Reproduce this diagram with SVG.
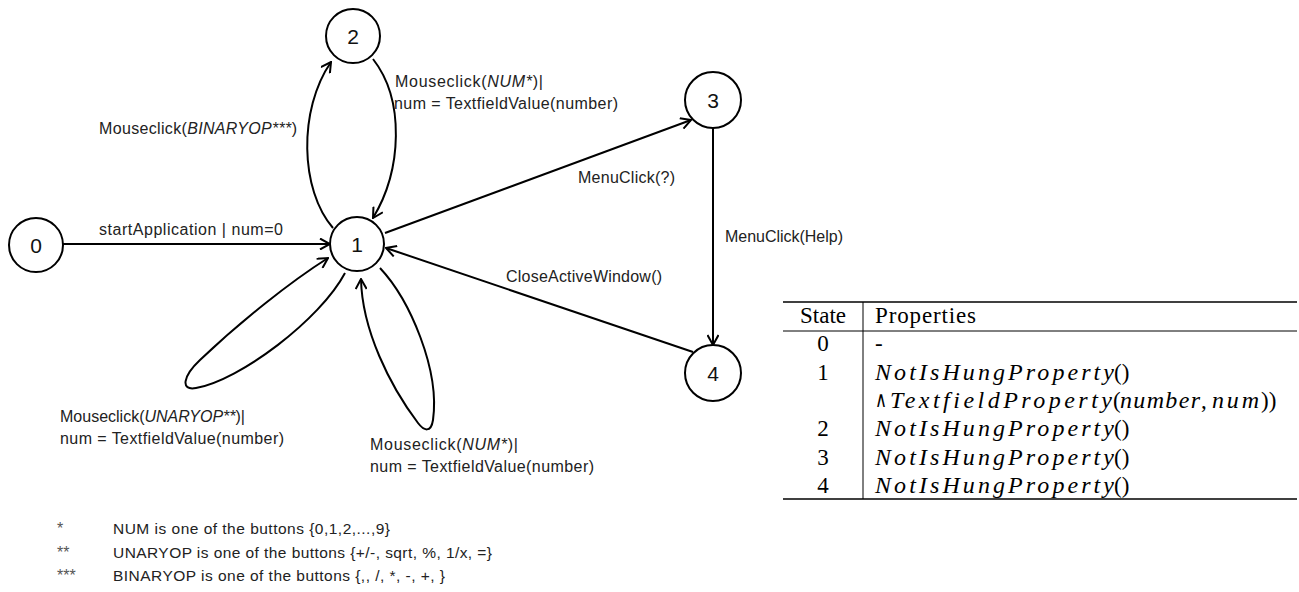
<svg xmlns="http://www.w3.org/2000/svg" width="1299" height="592" viewBox="0 0 1299 592">
  <style>
    .node circle { fill: #fff; stroke: #000; stroke-width: 2; }
    .node text { font-family: "Liberation Sans", Arial, sans-serif; font-size: 21px; fill: #111; text-anchor: middle; }
    .edge { fill: none; stroke: #000; stroke-width: 2; marker-end: url(#arrow); }
    .lbl { font-family: "Liberation Sans", Arial, sans-serif; font-size: 16px; fill: #222; }
    .it { font-style: italic; }
    .note { font-family: "Liberation Sans", Arial, sans-serif; font-size: 15.5px; fill: #222; }
    .star { font-family: "Liberation Sans", Arial, sans-serif; font-size: 16px; fill: #555; }
    .tb { font-family: "Liberation Serif", "Times New Roman", serif; font-size: 23px; fill: #000; }
    .mi { font-family: "Liberation Serif", "Times New Roman", serif; font-size: 24px; font-style: italic; fill: #000; }
    .op { font-family: "DejaVu Sans", sans-serif; font-size: 22px; fill: #000; }
    .rule { stroke: #000; }
  </style>
  <defs>
    <marker id="arrow" viewBox="0 0 12 12" refX="11" refY="6" markerWidth="12" markerHeight="12" markerUnits="userSpaceOnUse" orient="auto">
      <path d="M1,0.5 L11,6 L1,11.5" fill="none" stroke="#000" stroke-width="2"/>
    </marker>
  </defs>

  <!-- transitions -->
  <g id="connectors">
    <path class="edge" d="M63,244 L330,244"/>
    <path class="edge" d="M333,228 C300,190 298,110 331,62"/>
    <path class="edge" d="M373,59 C405,100 402,170 373,218"/>
    <path class="edge" d="M385,233 L691,120"/>
    <path class="edge" d="M713,128 L713,345"/>
    <path class="edge" d="M693,352 L386,248"/>
    <path class="edge" d="M345,273 C320,320 240,380 196,388 C180,391 183,376 200,360 C240,322 290,282 328,258"/>
    <path class="edge" d="M380,268 C410,300 440,370 433,420 C431,433 424,431 418,423 C390,386 362,330 361,279"/>
  </g>

  <!-- transition labels -->
  <g id="labels">
    <text class="lbl" x="99" y="235" textLength="184">startApplication | num=0</text>
    <text class="lbl" x="99" y="134" textLength="198">Mouseclick(<tspan class="it">BINARYOP***</tspan>)</text>
    <text class="lbl" x="395" y="87" textLength="148">Mouseclick(<tspan class="it">NUM*</tspan>)|</text>
    <text class="lbl" x="394" y="109" textLength="224">num = TextfieldValue(number)</text>
    <text class="lbl" x="578" y="183" textLength="97">MenuClick(?)</text>
    <text class="lbl" x="725" y="242" textLength="118">MenuClick(Help)</text>
    <text class="lbl" x="506" y="282" textLength="156">CloseActiveWindow()</text>
    <text class="lbl" x="60" y="422" textLength="185">Mouseclick(<tspan class="it">UNARYOP**</tspan>)|</text>
    <text class="lbl" x="60" y="444" textLength="224">num = TextfieldValue(number)</text>
    <text class="lbl" x="370" y="450" textLength="148">Mouseclick(<tspan class="it">NUM*</tspan>)|</text>
    <text class="lbl" x="370" y="472" textLength="224">num = TextfieldValue(number)</text>
  </g>

  <!-- states -->
  <g id="node-0" class="node"><circle cx="36" cy="245" r="27"/><text x="36" y="253">0</text></g>
  <g id="node-1" class="node"><circle cx="357" cy="244" r="27"/><text x="357" y="252">1</text></g>
  <g id="node-2" class="node"><circle cx="353" cy="36" r="27"/><text x="353" y="44">2</text></g>
  <g id="node-3" class="node"><circle cx="713" cy="100" r="28"/><text x="713" y="108">3</text></g>
  <g id="node-4" class="node"><circle cx="713" cy="373" r="28"/><text x="713" y="381">4</text></g>

  <!-- footnotes -->
  <g id="footnotes">
    <text class="star" x="57" y="534">*</text>
    <text class="note" x="113" y="534" textLength="277">NUM is one of the buttons {0,1,2,...,9}</text>
    <text class="star" x="57" y="558">**</text>
    <text class="note" x="113" y="558" textLength="379">UNARYOP is one of the buttons {+/-, sqrt, %, 1/x, =}</text>
    <text class="star" x="57" y="581">***</text>
    <text class="note" x="113" y="581" textLength="332">BINARYOP is one of the buttons {,, /,  *, -, +, }</text>
  </g>

  <!-- state property table -->
  <g id="table">
    <line class="rule" x1="783" y1="302" x2="1297" y2="302" stroke-width="1.4"/>
    <line class="rule" x1="783" y1="331" x2="1297" y2="331" stroke-width="1"/>
    <line class="rule" x1="783" y1="499" x2="1297" y2="499" stroke-width="1.4"/>
    <line class="rule" x1="863" y1="302" x2="863" y2="499" stroke-width="1"/>
    <text class="tb" x="823" y="323" text-anchor="middle">State</text>
    <text class="tb" x="875" y="323" textLength="101">Properties</text>

    <text class="tb" x="823" y="351" text-anchor="middle">0</text>
    <text class="tb" x="875" y="351">-</text>

    <text class="tb" x="823" y="380" text-anchor="middle">1</text>
    <text class="mi" x="875" y="380" textLength="239">NotIsHungProperty</text>
    <text class="tb" x="1114" y="380">()</text>
    <text class="op" x="875" y="407" textLength="12" lengthAdjust="spacingAndGlyphs">∧</text>
    <text class="mi" x="890" y="408" textLength="222">TextfieldProperty</text>
    <text class="tb" x="1113" y="408">(</text>
    <text class="mi" x="1120" y="408" textLength="80">number</text>
    <text class="tb" x="1201" y="408">,</text>
    <text class="mi" x="1212" y="408" textLength="47">num</text>
    <text class="tb" x="1261" y="408">))</text>

    <text class="tb" x="823" y="436" text-anchor="middle">2</text>
    <text class="mi" x="875" y="436" textLength="239">NotIsHungProperty</text>
    <text class="tb" x="1114" y="436">()</text>

    <text class="tb" x="823" y="465" text-anchor="middle">3</text>
    <text class="mi" x="875" y="465" textLength="239">NotIsHungProperty</text>
    <text class="tb" x="1114" y="465">()</text>

    <text class="tb" x="823" y="493" text-anchor="middle">4</text>
    <text class="mi" x="875" y="493" textLength="239">NotIsHungProperty</text>
    <text class="tb" x="1114" y="493">()</text>
  </g>
</svg>
